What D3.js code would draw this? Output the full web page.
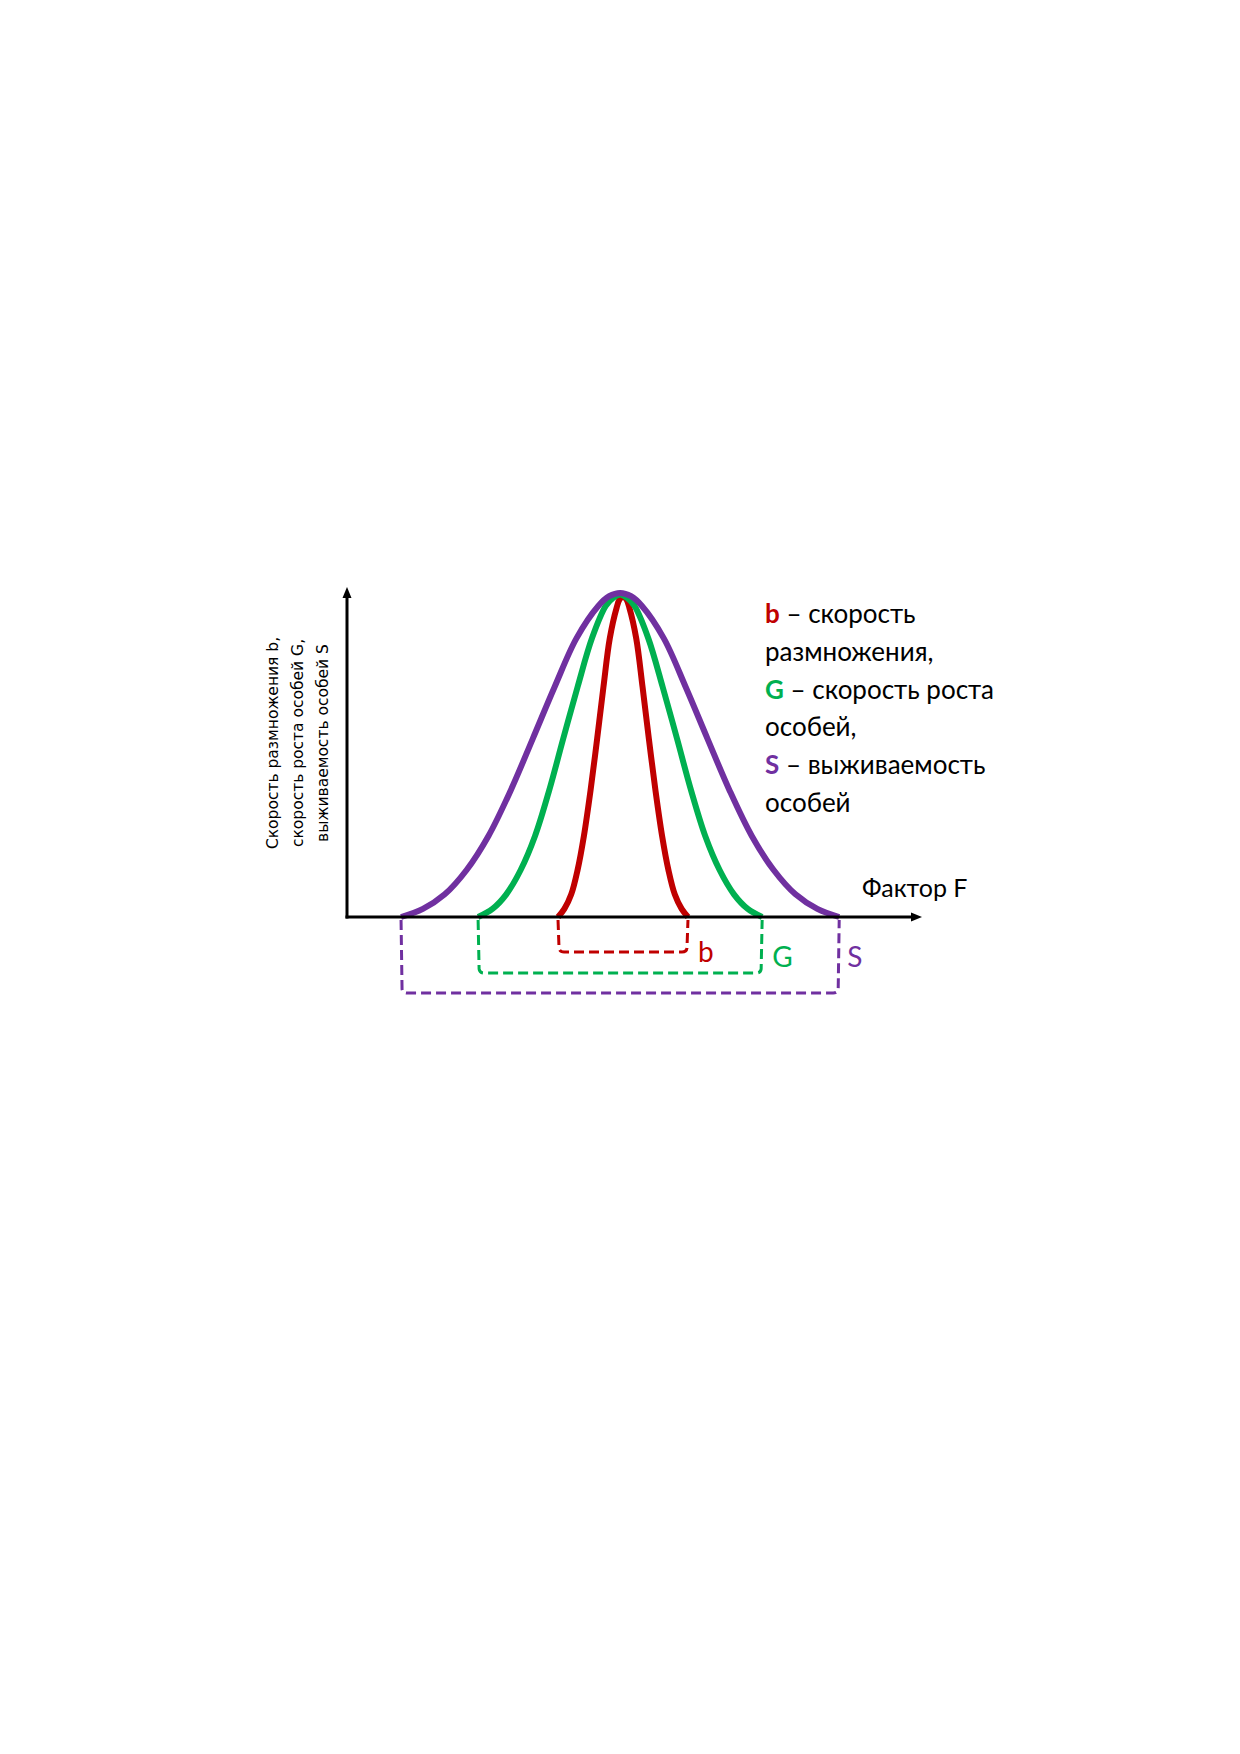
<!DOCTYPE html>
<html>
<head>
<meta charset="utf-8">
<script src="https://cdn.jsdelivr.net/npm/d3@7"></script>
<style>
  html, body { margin: 0; padding: 0; background: #fff; }
</style>
</head>
<body>
<div id="chart"></div>
<script>
var width = 1240;
var height = 1754;

// curves: factor F (0..100) vs relative rate (0..100)
var redX = [36.7, 37.8, 39.0, 40.1, 41.2, 42.35, 43.5, 44.6, 45.7, 46.9, 47.4, 48.0, 48.6, 49.1, 50.3, 51.4, 52.5, 53.65, 54.8, 55.9, 57.0, 58.2, 59.3];
var redY = [0, 2.5, 7, 14.5, 25, 39, 55, 71, 86, 95.5, 98, 99, 98, 95.5, 86, 71, 55, 39, 25, 14.5, 7, 2.5, 0];
var greenX = [22.8, 25.3, 27.7, 30.2, 32.7, 35.15, 37.6, 40.1, 42.6, 45.0, 46.3, 47.5, 48.7, 50.0, 52.4, 54.9, 57.4, 59.85, 62.3, 64.8, 67.3, 69.7, 72.2];
var greenY = [0, 2.5, 7, 14.5, 25, 39, 55, 71, 86, 96, 98.5, 99.5, 98.5, 96, 86, 71, 55, 39, 25, 14.5, 7, 2.5, 0];
var purpleX = [9.4, 13.2, 17.0, 20.8, 24.6, 28.45, 32.3, 36.1, 39.9, 43.7, 45.6, 47.5, 49.4, 51.3, 55.1, 58.9, 62.7, 66.55, 70.4, 74.2, 78.0, 81.8, 85.6];
var purpleY = [0, 2.5, 7, 14.5, 25, 39, 55, 71, 86, 96, 99, 100, 99, 96, 86, 71, 55, 39, 25, 14.5, 7, 2.5, 0];

var seriesNames = ["b", "G", "S"];
var seriesColors = ["#C00000", "#00B050", "#7030A0"];

var legendKeys = ["b", "", "G", "", "S", ""];
var legendTexts = [" – скорость", "размножения,", " – скорость роста", "особей,", " – выживаемость", "особей"];
var legendKeyColors = ["#C00000", null, "#00B050", null, "#7030A0", null];

var yTitle = ["Скорость размножения b,", "скорость роста особей G,", "выживаемость особей S"];
var xTitle = "Фактор F";

function createSVG() {
  return d3.select("#chart")
    .append("svg")
    .attr("width", width)
    .attr("height", height);
}

function drawAxes(svg, x, y) {
  var x0 = x.range()[0];
  var y0 = y.range()[0];
  var xEnd = x.range()[1];
  var yEnd = y.range()[1] - 6;

  svg.append("line")
    .attr("x1", x0).attr("y1", y0 + 1.5)
    .attr("x2", x0).attr("y2", yEnd + 9)
    .attr("stroke", "#000").attr("stroke-width", 3);
  svg.append("path")
    .attr("d", "M" + x0 + "," + yEnd + " L" + (x0 - 4.5) + "," + (yEnd + 11) + " L" + (x0 + 4.5) + "," + (yEnd + 11) + "Z")
    .attr("fill", "#000");

  svg.append("line")
    .attr("x1", x0 - 1.5).attr("y1", y0)
    .attr("x2", xEnd - 9).attr("y2", y0)
    .attr("stroke", "#000").attr("stroke-width", 3);
  svg.append("path")
    .attr("d", "M" + xEnd + "," + y0 + " L" + (xEnd - 11) + "," + (y0 - 4.5) + " L" + (xEnd - 11) + "," + (y0 + 4.5) + "Z")
    .attr("fill", "#000");

  svg.append("text")
    .attr("x", 862).attr("y", 897)
    .attr("font-family", "Lato, 'Open Sans', sans-serif")
    .attr("font-size", 25)
    .attr("fill", "#000")
    .text(xTitle);

  var yt = svg.append("g")
    .attr("transform", "translate(0,743) rotate(-90)");
  yTitle.forEach(function(t, i) {
    yt.append("text")
      .attr("x", 0)
      .attr("y", 278 + i * 25)
      .attr("text-anchor", "middle")
      .attr("font-family", "'DejaVu Sans', sans-serif")
      .attr("font-size", 15.5)
      .attr("fill", "#000")
      .text(t);
  });
}

function drawCurves(svg, x, y, allX, allY) {
  var line = d3.line()
    .x(function(d) { return x(d[0]); })
    .y(function(d) { return y(d[1]); })
    .curve(d3.curveCatmullRom.alpha(0.5));

  allX.forEach(function(xs, i) {
    var pts = d3.zip(xs, allY[i]);
    svg.append("path")
      .attr("d", line(pts))
      .attr("fill", "none")
      .attr("stroke", seriesColors[i])
      .attr("stroke-width", 6)
      .attr("stroke-linejoin", "round")
      .attr("stroke-linecap", "butt");
  });
}

function drawBrackets(svg, x, y, allX) {
  // how far below the axis each range bracket sits
  var depth = [35, 56, 76];
  var labelDx = [10, 10, 8];
  var labelY = [962, 967, 967];
  var y0 = y(0) + 3;

  allX.forEach(function(xs, i) {
    var xl = x(xs[0]);
    var xr = x(xs[xs.length - 1]);
    var yb = y(0) + depth[i];
    var r = 4;
    var d = "M" + xl + "," + y0 +
      " L" + (xl + 1) + "," + (yb - r) +
      " Q" + (xl + 1.5) + "," + yb + " " + (xl + r + 2) + "," + yb +
      " L" + (xr - r - 2) + "," + yb +
      " Q" + (xr - 1.5) + "," + yb + " " + (xr - 1) + "," + (yb - r) +
      " L" + xr + "," + y0;
    svg.append("path")
      .attr("d", d)
      .attr("fill", "none")
      .attr("stroke", seriesColors[i])
      .attr("stroke-width", 3)
      .attr("stroke-dasharray", "10,5");

    svg.append("text")
      .attr("x", xr + labelDx[i])
      .attr("y", labelY[i])
      .attr("font-family", "Lato, 'Open Sans', sans-serif")
      .attr("font-size", 28)
      .attr("fill", seriesColors[i])
      .text(seriesNames[i]);
  });
}

function drawLegend(svg) {
  var lx = 765;
  var ly = 623;
  var step = 37.8;
  legendTexts.forEach(function(t, i) {
    var txt = svg.append("text")
      .attr("x", lx)
      .attr("y", ly + i * step)
      .attr("font-family", "Lato, 'Open Sans', sans-serif")
      .attr("font-size", 26)
      .attr("fill", "#000");
    if (legendKeys[i]) {
      txt.append("tspan")
        .attr("font-weight", "bold")
        .attr("fill", legendKeyColors[i])
        .text(legendKeys[i]);
    }
    txt.append("tspan").text(t);
  });
}

function createChart() {
  var svg = createSVG();
  var x = d3.scaleLinear().domain([0, 100]).range([347, 922]);
  var y = d3.scaleLinear().domain([0, 100]).range([917, 593]);

  drawCurves(svg, x, y, [redX, greenX, purpleX], [redY, greenY, purpleY]);
  drawAxes(svg, x, y);
  drawBrackets(svg, x, y, [redX, greenX, purpleX]);
  drawLegend(svg);
}

window.onload = function() {
  createChart();
};
</script>
</body>
</html>
